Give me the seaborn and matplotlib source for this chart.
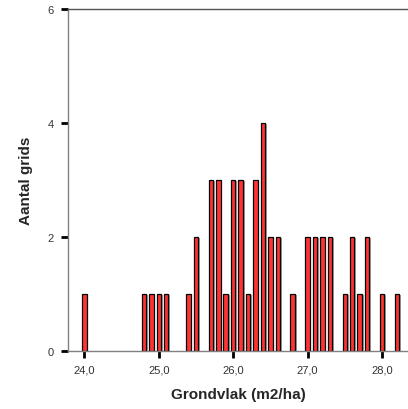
import matplotlib
matplotlib.use('Agg')
import matplotlib.pyplot as plt
import matplotlib.patheffects as pe
import pandas as pd
import seaborn as sns

# Data
grondvlak = [24.0, 24.8, 24.9, 25.0, 25.1, 25.4, 25.5, 25.7, 25.8, 25.9,
             26.0, 26.1, 26.2, 26.3, 26.4, 26.5, 26.6, 26.8, 27.0, 27.1,
             27.2, 27.3, 27.5, 27.6, 27.7, 27.8, 28.0, 28.2]
aantal = [1, 1, 1, 1, 1, 1, 2, 3, 3, 1,
          3, 3, 1, 3, 4, 2, 2, 1, 2, 2,
          2, 2, 1, 2, 1, 2, 1, 1]
x_ticks = [24.0, 25.0, 26.0, 27.0, 28.0]
x_ticklabels = ['24,0', '25,0', '26,0', '27,0', '28,0']
y_ticks = [0, 2, 4, 6]

df = pd.DataFrame({'grondvlak': grondvlak, 'aantal': aantal})

sns.set_style('white')
plt.rcParams['font.family'] = ['Liberation Sans', 'DejaVu Sans']

fig = plt.figure(figsize=(4.08, 4.10), dpi=100)
ax = fig.add_axes([68 / 408, 58 / 410, 340 / 408, 342 / 410])

sns.barplot(
    data=df,
    x='grondvlak',
    y='aantal',
    native_scale=True,
    width=0.6,
    color='#ff3333',
    saturation=1,
    edgecolor='black',
    linewidth=0.9,
    ax=ax,
)

# SPSS style drop shadow on the bars
for bar in ax.patches:
    bar.set_path_effects([
        pe.SimplePatchShadow(offset=(1.2, -0.6), shadow_rgbFace='#888888', alpha=0.8),
        pe.Normal(),
    ])

ax.set_xlim(23.78, 28.35)
ax.set_ylim(0, 6)
ax.set_xticks(x_ticks)
ax.set_xticklabels(x_ticklabels)
ax.set_yticks(y_ticks)

ax.tick_params(axis='both', direction='out', length=5, width=2, color='black',
               labelsize=8, labelcolor='#333333', pad=5)
ax.tick_params(axis='x', bottom=True)
ax.tick_params(axis='y', left=True)

for side in ['left', 'bottom']:
    ax.spines[side].set_color('#808080')
    ax.spines[side].set_linewidth(1)
ax.spines['top'].set_color('#555555')
ax.spines['top'].set_linewidth(1)
ax.spines['right'].set_visible(False)

ax.set_xlabel('Grondvlak (m2/ha)', fontsize=11, fontweight='bold', labelpad=9)
ax.set_ylabel('Aantal grids', fontsize=11, fontweight='bold', labelpad=11)

fig.savefig('out.png', dpi=100)
